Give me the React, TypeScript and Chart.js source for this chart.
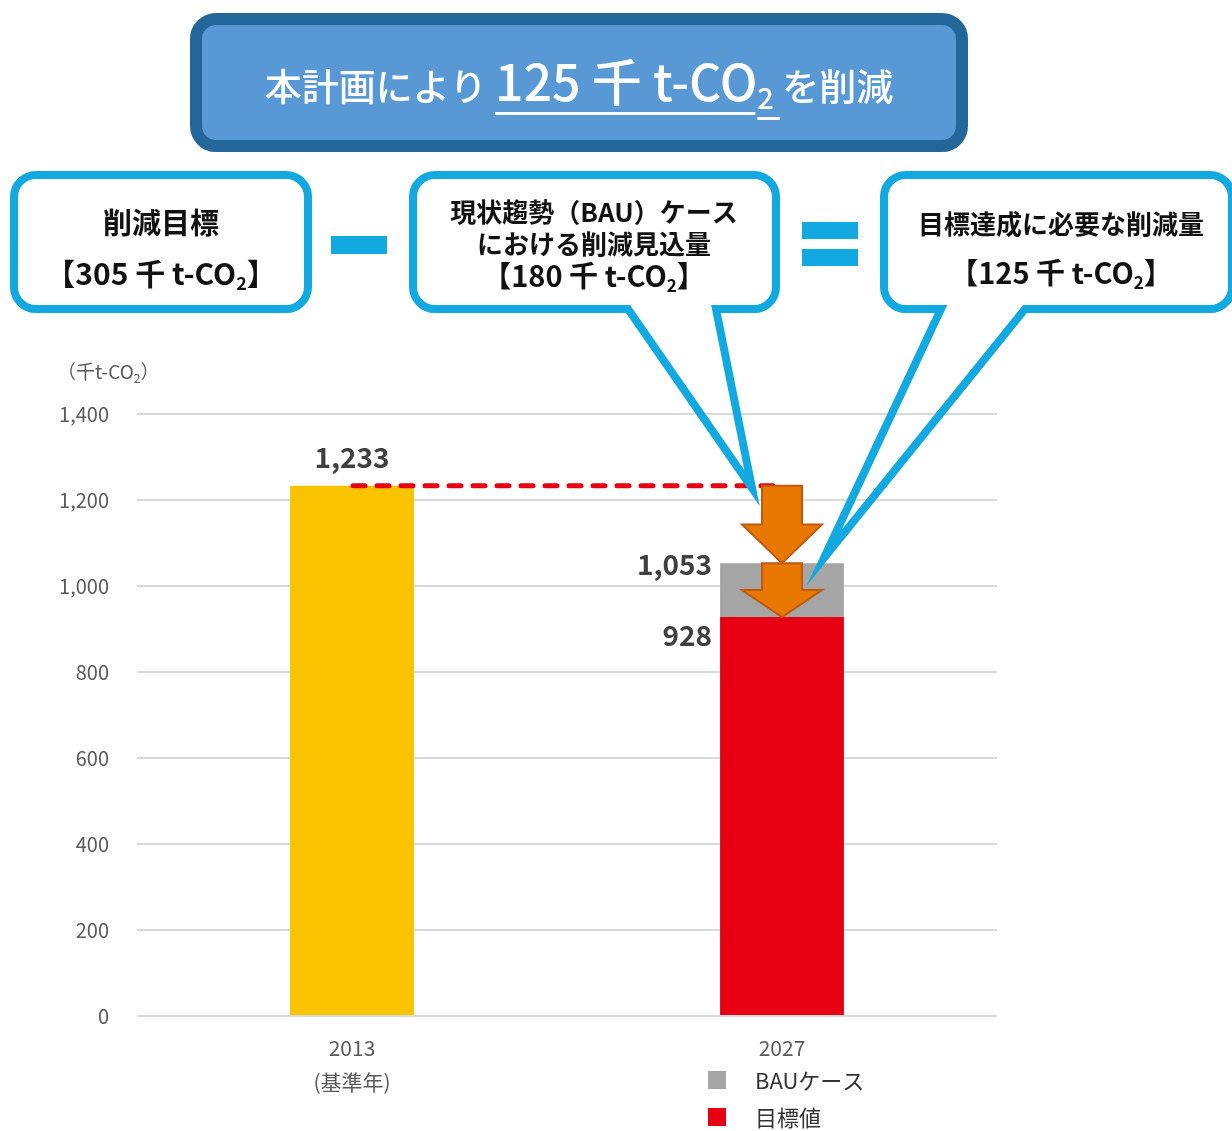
import React, { useEffect, useRef } from 'react';
import { Chart, registerables } from 'chart.js';

Chart.register(...registerables);

const CANVAS_W = 1232;
const CANVAS_H = 1131;
const FONT = '"Noto Sans CJK JP", "Noto Sans", sans-serif';

// ---------------- data ----------------
const categories: string[][] = [['2013', '(基準年)'], ['2027']];
const baseYearEmissions: (number | null)[] = [1233, null];
const targetEmissions: (number | null)[] = [null, 928];
const bauEmissions: (number | null)[] = [null, 1053];
const seriesNames = ['基準年', '目標値', 'BAUケース'];
const seriesColors = ['#FAC300', '#E60012', '#A5A5A5'];
const legendNames = ['BAUケース', '目標値'];
const legendColors = ['#A5A5A5', '#E60012'];
const yTickValues = [0, 200, 400, 600, 800, 1000, 1200, 1400];
const yAxisUnit = ['（千t-CO', '2', '）'];

// derived
const baseValue = baseYearEmissions[0] as number;
const bauValue = bauEmissions[1] as number;
const targetValue = targetEmissions[1] as number;
const reductionTarget = baseValue - targetValue; // 305
const bauReduction = baseValue - bauValue; // 180
const requiredReduction = bauValue - targetValue; // 125
const bauIncrement = bauEmissions.map((v, i) => (v == null ? null : v - (targetEmissions[i] ?? 0)));

const fmt = (v: number) => v.toLocaleString('en-US');

type Run = { t: string; size: number; weight?: string; dy?: number; ul?: number };

function drawRuns(ctx: CanvasRenderingContext2D, runs: Run[], cx: number, baseline: number, color: string) {
  ctx.save();
  ctx.textBaseline = 'alphabetic';
  ctx.textAlign = 'left';
  const widths = runs.map((r) => {
    ctx.font = `${r.weight || 'normal'} ${r.size}px ${FONT}`;
    return ctx.measureText(r.t).width;
  });
  const total = widths.reduce((a, b) => a + b, 0);
  let x = cx - total / 2;
  ctx.fillStyle = color;
  runs.forEach((r, i) => {
    ctx.font = `${r.weight || 'normal'} ${r.size}px ${FONT}`;
    ctx.fillText(r.t, x, baseline + (r.dy || 0));
    if (r.ul !== undefined) {
      ctx.fillRect(x, r.ul, widths[i] + (r.dy ? 6 : -2), 3);
    }
    x += widths[i];
  });
  ctx.restore();
}

function roundRectPath(ctx: CanvasRenderingContext2D, x: number, y: number, w: number, h: number, r: number, tail?: { b1: number; b2: number; tip: [number, number] }) {
  ctx.beginPath();
  ctx.moveTo(x + r, y);
  ctx.lineTo(x + w - r, y);
  ctx.arcTo(x + w, y, x + w, y + r, r);
  ctx.lineTo(x + w, y + h - r);
  ctx.arcTo(x + w, y + h, x + w - r, y + h, r);
  if (tail) {
    ctx.lineTo(tail.b2, y + h);
    ctx.lineTo(tail.tip[0], tail.tip[1]);
    ctx.lineTo(tail.b1, y + h);
  }
  ctx.lineTo(x + r, y + h);
  ctx.arcTo(x, y + h, x, y + h - r, r);
  ctx.lineTo(x, y + r);
  ctx.arcTo(x, y, x + r, y, r);
  ctx.closePath();
}

function callout(ctx: CanvasRenderingContext2D, x: number, y: number, w: number, h: number, tail?: { b1: number; b2: number; tip: [number, number] }) {
  ctx.save();
  roundRectPath(ctx, x, y, w, h, 22);
  ctx.fillStyle = '#FFFFFF';
  ctx.fill();
  roundRectPath(ctx, x, y, w, h, 22, tail);
  ctx.strokeStyle = '#12A8E0';
  ctx.lineWidth = 8;
  ctx.lineJoin = 'miter';
  ctx.miterLimit = 12;
  ctx.stroke();
  ctx.restore();
}

function downArrow(ctx: CanvasRenderingContext2D, cx: number, top: number, bottom: number) {
  const sh = 20;
  const hh = 40;
  const hs = top + (bottom - top) * 0.5;
  ctx.save();
  ctx.beginPath();
  ctx.moveTo(cx - sh, top);
  ctx.lineTo(cx + sh, top);
  ctx.lineTo(cx + sh, hs);
  ctx.lineTo(cx + hh, hs);
  ctx.lineTo(cx, bottom);
  ctx.lineTo(cx - hh, hs);
  ctx.lineTo(cx - sh, hs);
  ctx.closePath();
  ctx.fillStyle = '#E87800';
  ctx.fill();
  ctx.strokeStyle = '#C0590F';
  ctx.lineWidth = 2;
  ctx.lineJoin = 'miter';
  ctx.stroke();
  ctx.restore();
}

const decorPlugin = {
  id: 'decor',
  afterDatasetsDraw(chart: any) {
    const ctx: CanvasRenderingContext2D = chart.ctx;
    const ys = chart.scales.y;
    const baseBar = chart.getDatasetMeta(0).data[0] as any;
    const targetBar = chart.getDatasetMeta(1).data[1] as any;
    const bauBar = chart.getDatasetMeta(2).data[1] as any;
    const yBase = ys.getPixelForValue(baseValue);
    const yBau = ys.getPixelForValue(bauValue);
    const yTarget = ys.getPixelForValue(targetValue);

    // dashed reference line
    ctx.save();
    ctx.strokeStyle = '#E60012';
    ctx.lineWidth = 5;
    ctx.lineCap = 'round';
    ctx.setLineDash([12, 12]);
    ctx.beginPath();
    ctx.moveTo(baseBar.x + 1, yBase);
    ctx.lineTo(bauBar.x - 8, yBase);
    ctx.stroke();
    ctx.restore();

    // arrows
    downArrow(ctx, bauBar.x, yBase, yBau);
    downArrow(ctx, bauBar.x, yBau, yTarget);

    // data labels
    ctx.save();
    ctx.fillStyle = '#404040';
    ctx.font = `bold 28px ${FONT}`;
    ctx.textBaseline = 'alphabetic';
    ctx.textAlign = 'center';
    ctx.fillText(fmt(baseValue), baseBar.x, yBase - 18);
    ctx.textAlign = 'right';
    const lx = targetBar.x - targetBar.width / 2 - 8;
    ctx.fillText(fmt(bauValue), lx, yBau + 12);
    ctx.fillText(fmt(targetValue), lx, yTarget + 29);
    ctx.restore();

    // y axis unit
    ctx.save();
    ctx.fillStyle = '#595959';
    ctx.textBaseline = 'alphabetic';
    ctx.textAlign = 'left';
    ctx.font = `19px ${FONT}`;
    let ux = 57;
    ctx.fillText(yAxisUnit[0], ux, 379);
    ux += ctx.measureText(yAxisUnit[0]).width;
    ctx.font = `12px ${FONT}`;
    ctx.fillText(yAxisUnit[1], ux, 383);
    ux += ctx.measureText(yAxisUnit[1]).width;
    ctx.font = `19px ${FONT}`;
    ctx.fillText(yAxisUnit[2], ux, 379);
    ctx.restore();

    // banner
    ctx.save();
    ctx.beginPath();
    ctx.roundRect(196, 19, 766, 127, 20);
    ctx.fillStyle = '#5898D4';
    ctx.fill();
    ctx.strokeStyle = '#236699';
    ctx.lineWidth = 12;
    ctx.stroke();
    ctx.restore();
    drawRuns(ctx, [
      { t: '本計画により ', size: 37, weight: '500' },
      { t: `${requiredReduction} 千 t-CO`, size: 50, weight: '500', ul: 112 },
      { t: '2', size: 29, dy: 8, weight: '500', ul: 117 },
      { t: ' を削減', size: 37, weight: '500' },
    ], 579, 101, '#FFFFFF');

    // callouts
    callout(ctx, 14, 175, 294, 134);
    callout(ctx, 413, 175, 363, 134, { b1: 628, b2: 716, tip: [752, 488] });
    callout(ctx, 884, 175, 348, 134, { b1: 941, b2: 1025, tip: [824, 558] });

    // minus and equals
    ctx.save();
    ctx.fillStyle = '#12A8E0';
    ctx.fillRect(331, 236, 56, 18);
    ctx.fillRect(802, 222, 56, 17);
    ctx.fillRect(802, 249, 56, 17);
    ctx.restore();

    const B = 'bold';
    drawRuns(ctx, [{ t: '削減目標', size: 29, weight: B }], 161, 234, '#111');
    drawRuns(ctx, [
      { t: `【${reductionTarget} 千 t-CO`, size: 30, weight: B },
      { t: '2', size: 18, dy: 5, weight: B },
      { t: '】', size: 30, weight: B },
    ], 161, 285, '#111');

    drawRuns(ctx, [{ t: '現状趨勢（BAU）ケース', size: 26, weight: B }], 594, 222, '#111');
    drawRuns(ctx, [{ t: 'における削減見込量', size: 26, weight: B }], 594, 254, '#111');
    drawRuns(ctx, [
      { t: `【${bauReduction} 千 t-CO`, size: 29, weight: B },
      { t: '2', size: 17, dy: 5, weight: B },
      { t: '】', size: 29, weight: B },
    ], 594, 287, '#111');

    drawRuns(ctx, [{ t: '目標達成に必要な削減量', size: 26, weight: B }], 1061, 234, '#111');
    drawRuns(ctx, [
      { t: `【${requiredReduction} 千 t-CO`, size: 29, weight: B },
      { t: '2', size: 17, dy: 5, weight: B },
      { t: '】', size: 29, weight: B },
    ], 1061, 284, '#111');

    // legend
    ctx.save();
    ctx.textAlign = 'left';
    ctx.textBaseline = 'middle';
    ctx.font = `22px ${FONT}`;
    const rows = [1080, 1117];
    legendNames.forEach((name, i) => {
      ctx.fillStyle = legendColors[i];
      ctx.fillRect(708, rows[i] - 9, 18, 18);
      ctx.fillStyle = '#333333';
      ctx.fillText(name, 755, rows[i] + 1);
    });
    ctx.restore();
  },
};

export default function App() {
  const ref = useRef<HTMLCanvasElement>(null);
  useEffect(() => {
    const canvas = ref.current as HTMLCanvasElement;
    const chart = new Chart(canvas, {
      type: 'bar',
      data: {
        labels: categories as any,
        datasets: [
          { label: seriesNames[0], data: baseYearEmissions as any, backgroundColor: seriesColors[0] },
          { label: seriesNames[1], data: targetEmissions as any, backgroundColor: seriesColors[1] },
          { label: seriesNames[2], data: bauIncrement as any, backgroundColor: seriesColors[2] },
        ],
      },
      options: {
        responsive: false,
        animation: false,
        devicePixelRatio: 1,
        layout: { padding: { top: 414, left: 0, right: 235, bottom: 0 } },
        datasets: { bar: { categoryPercentage: 1, barPercentage: 0.288, borderWidth: 0 } },
        plugins: { legend: { display: false }, tooltip: { enabled: false } },
        scales: {
          x: {
            stacked: true,
            grid: { display: false, drawTicks: false },
            border: { display: false },
            ticks: {
              color: '#595959',
              font: { family: FONT, size: 21, lineHeight: 34 / 21 },
              padding: 15,
              maxRotation: 0,
              autoSkip: false,
            },
            afterFit: (s: any) => { s.height = 115; },
          },
          y: {
            stacked: true,
            min: yTickValues[0],
            max: yTickValues[yTickValues.length - 1],
            afterBuildTicks: (s: any) => { s.ticks = yTickValues.map((v) => ({ value: v })); },
            grid: { color: '#D9D9D9', lineWidth: 2, drawTicks: false },
            border: { display: false },
            ticks: {
              color: '#595959',
              font: { family: FONT, size: 20 },
              padding: 28,
              callback: (v: any) => fmt(Number(v)),
            },
            afterFit: (s: any) => { s.width = 137; },
          },
        },
      },
      plugins: [decorPlugin],
    });
    return () => chart.destroy();
  }, []);
  return (
    <div style={{ position: 'absolute', left: 0, top: 0, width: CANVAS_W, height: CANVAS_H, background: '#FFFFFF' }}>
      <canvas ref={ref} width={CANVAS_W} height={CANVAS_H} style={{ display: 'block', width: CANVAS_W, height: CANVAS_H }} />
    </div>
  );
}
